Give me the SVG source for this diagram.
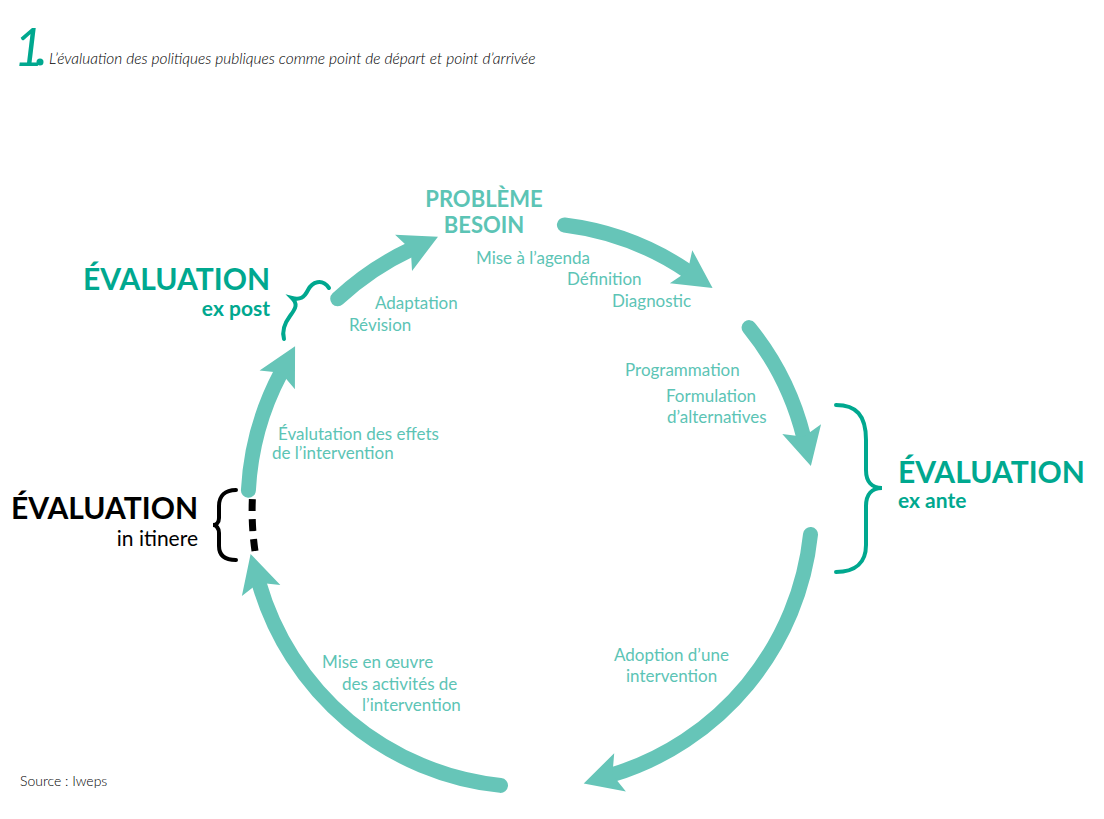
<svg xmlns="http://www.w3.org/2000/svg" width="1104" height="819" viewBox="0 0 1104 819">
<style>
.arc{fill:none;stroke:#66c5b8;stroke-width:15;stroke-linecap:round;marker-end:url(#ah)}
.lab{font-family:Lato,"Noto Sans",sans-serif;font-size:17px;fill:#5cc4b5}
.hd{font-family:Lato,"Noto Sans",sans-serif;font-weight:bold}
.br{fill:none;stroke-width:4;stroke-linecap:round}
</style>
<defs>
<marker id="ah" markerUnits="userSpaceOnUse" orient="auto" markerWidth="60" markerHeight="60" refX="14" refY="22" overflow="visible">
<path d="M44,22 L6,2 L14,22 L6,42 Z" fill="#66c5b8"/>
</marker>
</defs>
<rect width="1104" height="819" fill="#fff"/>
<g id="title">
<text x="14" y="66" font-family="Lato,sans-serif" font-style="italic" font-size="52" fill="#00a88f">1</text>
<circle cx="40" cy="62" r="3.5" fill="#00a88f"/>
<text x="49" y="64" font-family="Lato,sans-serif" font-style="italic" font-weight="300" font-size="15.5" fill="#000">L’évaluation des politiques publiques comme point de départ et point d’arrivée</text>
</g>
<g id="connectors">
<path class="arc" d="M337.7,298.8 A282,282 0 0 1 410.8,249.4"/>
<path class="arc" d="M564.4,225 A282,282 0 0 1 687.7,271.2"/>
<path class="arc" d="M749.1,327.6 A282,282 0 0 1 803.6,436.8"/>
<path class="arc" d="M810.5,534.5 A282,282 0 0 1 612.4,774.7"/>
<path class="arc" d="M500.5,785.4 A282,282 0 0 1 258.9,582.8"/>
<path class="arc" d="M248.4,490.3 A282,282 0 0 1 281,372.7"/>
<path d="M255,551 A282,282 0 0 1 252.5,496" fill="none" stroke="#000" stroke-width="7" stroke-dasharray="12,8"/>
</g>
<g id="probleme">
<text class="hd" x="484" y="207" text-anchor="middle" font-size="22" fill="#5cc4b5">PROBLÈME</text>
<text class="hd" x="484" y="233" text-anchor="middle" font-size="22" fill="#5cc4b5">BESOIN</text>
</g>
<g id="labels">
<text class="lab" x="476" y="264">Mise à l’agenda</text>
<text class="lab" x="567" y="285">Définition</text>
<text class="lab" x="612" y="307">Diagnostic</text>
<text class="lab" x="375" y="309">Adaptation</text>
<text class="lab" x="349" y="331">Révision</text>
<text class="lab" x="625" y="376">Programmation</text>
<text class="lab" x="666" y="402">Formulation</text>
<text class="lab" x="667" y="423">d’alternatives</text>
<text class="lab" x="278" y="440">Évalutation des effets</text>
<text class="lab" x="272" y="459">de l’intervention</text>
<text class="lab" x="614" y="661">Adoption d’une</text>
<text class="lab" x="626" y="682">intervention</text>
<text class="lab" x="322" y="668">Mise en œuvre</text>
<text class="lab" x="342" y="690">des activités de</text>
<text class="lab" x="362" y="711">l’intervention</text>
</g>
<g id="expost">
<text class="hd" x="270" y="290" text-anchor="end" font-size="30" fill="#00a88f">ÉVALUATION</text>
<text class="hd" x="270" y="316" text-anchor="end" font-size="21" fill="#00a88f">ex post</text>
<path class="br" stroke="#00a88f" d="M329,288 C322,278 312,282 308,290 C304,298 300,300 292,298 C298,304 296,308 290,316 C284,324 282,332 284,339"/>
</g>
<g id="exante">
<text class="hd" x="898" y="483" font-size="30" fill="#00a88f">ÉVALUATION</text>
<text class="hd" x="898" y="508" font-size="21" fill="#00a88f">ex ante</text>
<path class="br" stroke="#00a88f" d="M836,405 C856,405 866,415 866,440 L866,470 C866,482 872,488 882,488 C872,488 866,494 866,506 L866,545 C866,562 856,572 836,572"/>
</g>
<g id="itinere">
<text class="hd" x="198" y="519" text-anchor="end" font-size="30" fill="#000">ÉVALUATION</text>
<text x="198" y="546" text-anchor="end" font-family="Lato,sans-serif" font-size="21" fill="#000">in itinere</text>
<path class="br" stroke="#000" d="M236,490 C225,490 219,496 219,506 L219,518 C219,523 216,525 213,525 C216,525 219,528 219,533 L219,546 C219,556 225,560 236,560"/>
</g>
<text x="20" y="786" font-family="Lato,sans-serif" font-weight="300" font-size="14" fill="#000">Source : Iweps</text>
</svg>
